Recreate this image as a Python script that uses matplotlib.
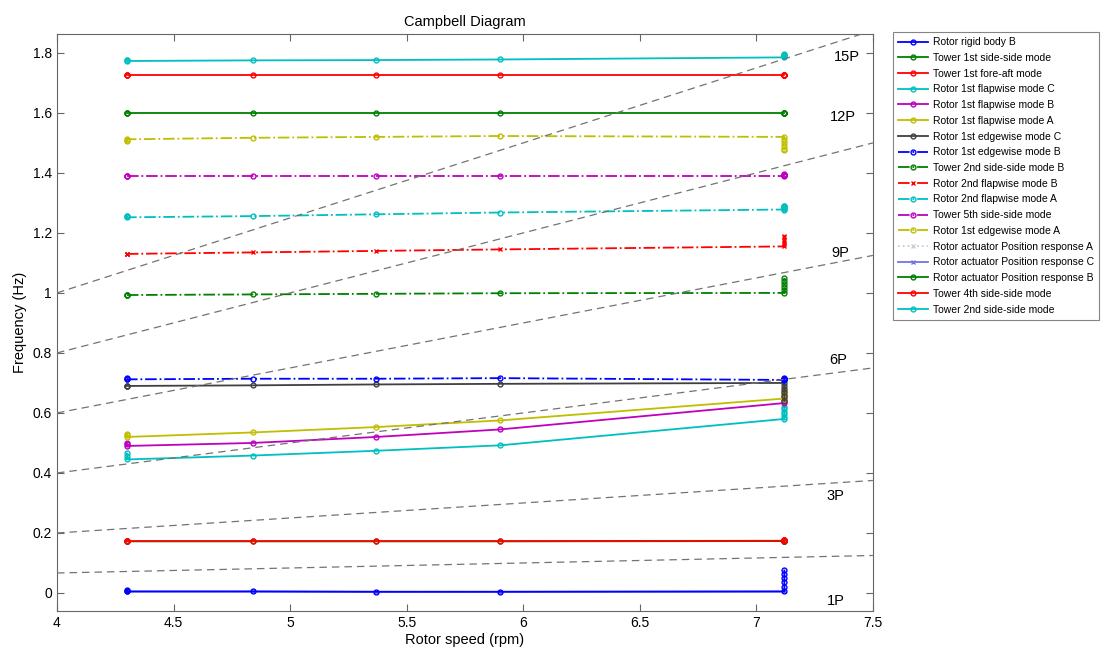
import matplotlib.pyplot as plt
from matplotlib.ticker import FormatStrFormatter

plt.rcParams['font.family'] = ['Liberation Sans', 'DejaVu Sans']

# rotor speeds of the operating points (clusters at 4.3 and 7.12 rpm)
speeds = [4.3, 4.3, 4.3, 4.84, 5.37, 5.9, 7.12, 7.12, 7.12, 7.12, 7.12, 7.12]

rigid_body_b = [0.010, 0.007, 0.005, 0.005, 0.004, 0.004, 0.005, 0.020, 0.035, 0.050, 0.063, 0.075]
tower_1st_ss = [0.172, 0.172, 0.172, 0.172, 0.172, 0.172, 0.173, 0.173, 0.173, 0.173, 0.173, 0.173]
tower_1st_fa = [0.173, 0.173, 0.173, 0.173, 0.173, 0.173, 0.174, 0.175, 0.175, 0.175, 0.175, 0.175]
flap_1st_c = [0.465, 0.455, 0.445, 0.458, 0.474, 0.492, 0.580, 0.588, 0.596, 0.604, 0.612, 0.620]
flap_1st_b = [0.500, 0.495, 0.490, 0.500, 0.520, 0.545, 0.633, 0.640, 0.645, 0.650, 0.655, 0.660]
flap_1st_a = [0.530, 0.525, 0.520, 0.535, 0.553, 0.575, 0.648, 0.655, 0.660, 0.665, 0.670, 0.675]
edge_1st_c = [0.690, 0.690, 0.690, 0.692, 0.695, 0.697, 0.700, 0.690, 0.680, 0.670, 0.655, 0.640]
edge_1st_b = [0.715, 0.712, 0.712, 0.714, 0.714, 0.716, 0.710, 0.712, 0.714, 0.716, 0.714, 0.712]
tower_2nd_ss_b = [0.993, 0.993, 0.993, 0.995, 0.997, 0.999, 1.000, 1.010, 1.020, 1.030, 1.040, 1.050]
flap_2nd_b = [1.130, 1.130, 1.130, 1.135, 1.140, 1.145, 1.155, 1.163, 1.170, 1.178, 1.185, 1.190]
flap_2nd_a = [1.258, 1.255, 1.252, 1.256, 1.262, 1.268, 1.278, 1.281, 1.284, 1.287, 1.290, 1.290]
tower_5th_ss = [1.390, 1.390, 1.390, 1.390, 1.390, 1.390, 1.390, 1.392, 1.394, 1.396, 1.394, 1.392]
edge_1st_a = [1.505, 1.510, 1.512, 1.517, 1.520, 1.523, 1.520, 1.510, 1.500, 1.490, 1.480, 1.475]
act_pos_a = [0.005, 0.005, 0.005, 0.005, 0.004, 0.004, 0.005, 0.005, 0.005, 0.005, 0.005, 0.005]
act_pos_c = [0.005, 0.005, 0.005, 0.005, 0.004, 0.004, 0.005, 0.005, 0.005, 0.005, 0.005, 0.005]
act_pos_b = [1.600, 1.600, 1.600, 1.600, 1.600, 1.600, 1.600, 1.600, 1.600, 1.600, 1.600, 1.600]
tower_4th_ss = [1.727, 1.727, 1.727, 1.727, 1.727, 1.727, 1.727, 1.727, 1.727, 1.727, 1.727, 1.727]
tower_2nd_ss = [1.775, 1.775, 1.773, 1.775, 1.776, 1.778, 1.785, 1.788, 1.790, 1.792, 1.794, 1.795]

# harmonics of rotor speed
harmonics = [1, 3, 6, 9, 12, 15]
harm_labels = ["1P", "3P", "6P", "9P", "12P", "15P"]
label_pos = [(7.34, -0.027), (7.34, 0.323), (7.35, 0.777), (7.36, 1.133), (7.37, 1.587), (7.39, 1.787)]
rpm_range = [4.0, 7.5]

B = (0, 0, 1)
G = (0, 0.5, 0)
R = (1, 0, 0)
C = (0, 0.75, 0.75)
M = (0.75, 0, 0.75)
Y = (0.75, 0.75, 0)
K = (0.25, 0.25, 0.25)

modes = [
    ("Rotor rigid body B", rigid_body_b, B, "-", "o", 3),
    ("Tower 1st side-side mode", tower_1st_ss, G, "-", "o", 2),
    ("Tower 1st fore-aft mode", tower_1st_fa, R, "-", "o", 3),
    ("Rotor 1st flapwise mode C", flap_1st_c, C, "-", "o", 3),
    ("Rotor 1st flapwise mode B", flap_1st_b, M, "-", "o", 3),
    ("Rotor 1st flapwise mode A", flap_1st_a, Y, "-", "o", 3),
    ("Rotor 1st edgewise mode C", edge_1st_c, K, "-", "o", 3),
    ("Rotor 1st edgewise mode B", edge_1st_b, B, "-.", "o", 3),
    ("Tower 2nd side-side mode B", tower_2nd_ss_b, G, "-.", "o", 3),
    ("Rotor 2nd flapwise mode B", flap_2nd_b, R, "-.", "x", 3),
    ("Rotor 2nd flapwise mode A", flap_2nd_a, C, "-.", "o", 3),
    ("Tower 5th side-side mode", tower_5th_ss, M, "-.", "o", 3),
    ("Rotor 1st edgewise mode A", edge_1st_a, Y, "-.", "o", 3),
    ("Rotor actuator Position response A", act_pos_a, (0.8, 0.8, 0.85), ":", "x", 1),
    ("Rotor actuator Position response C", act_pos_c, (0.45, 0.45, 0.9), "-", "x", 1),
    ("Rotor actuator Position response B", act_pos_b, G, "-", "o", 3),
    ("Tower 4th side-side mode", tower_4th_ss, R, "-", "o", 3),
    ("Tower 2nd side-side mode", tower_2nd_ss, C, "-", "o", 3),
]

fig = plt.figure(figsize=(11.04, 6.52), dpi=100)
ax = fig.add_axes([0.0516, 0.0629, 0.7391, 0.8850])

for name, freq, col, ls, mk, z in modes:
    ax.plot(speeds, freq, color=col, linestyle=ls, marker=mk, markersize=3.5,
            markerfacecolor="none", markeredgewidth=1.0, linewidth=1.3,
            label=name, zorder=z)

for n, lab, (lx, ly) in zip(harmonics, harm_labels, label_pos):
    ax.plot(rpm_range, [n * r / 60 for r in rpm_range], color=(0.45, 0.45, 0.45),
            linestyle=(0, (6, 4)), linewidth=0.9, zorder=4)
    ax.text(lx, ly, lab, fontsize=10.5, ha="center", va="center")

ax.set_xlim(4, 7.5)
ax.set_ylim(-0.06, 1.863)
ax.set_xticks([4, 4.5, 5, 5.5, 6, 6.5, 7, 7.5])
ax.set_yticks([0, 0.2, 0.4, 0.6, 0.8, 1.0, 1.2, 1.4, 1.6, 1.8])
ax.yaxis.set_major_formatter(FormatStrFormatter("%g"))
ax.xaxis.set_major_formatter(FormatStrFormatter("%g"))
ax.tick_params(direction="in", top=True, right=True, labelsize=10, length=5, color="0.4")
for s in ax.spines.values():
    s.set_color("0.4")

ax.set_title("Campbell Diagram", fontsize=10.5)
ax.set_xlabel("Rotor speed (rpm)", fontsize=10.5, labelpad=2)
ax.set_ylabel("Frequency (Hz)", fontsize=10.5)

leg = fig.legend(loc="upper left", bbox_to_anchor=(893 / 1104, 1 - 32 / 652),
                 fontsize=7.5, frameon=True, fancybox=False, handlelength=2.9,
                 labelspacing=0.55, borderpad=0.5, handletextpad=0.4,
                 borderaxespad=0)
leg.get_frame().set_edgecolor("0.4")
leg.get_frame().set_linewidth(0.8)

fig.savefig("out.png", dpi=100)
